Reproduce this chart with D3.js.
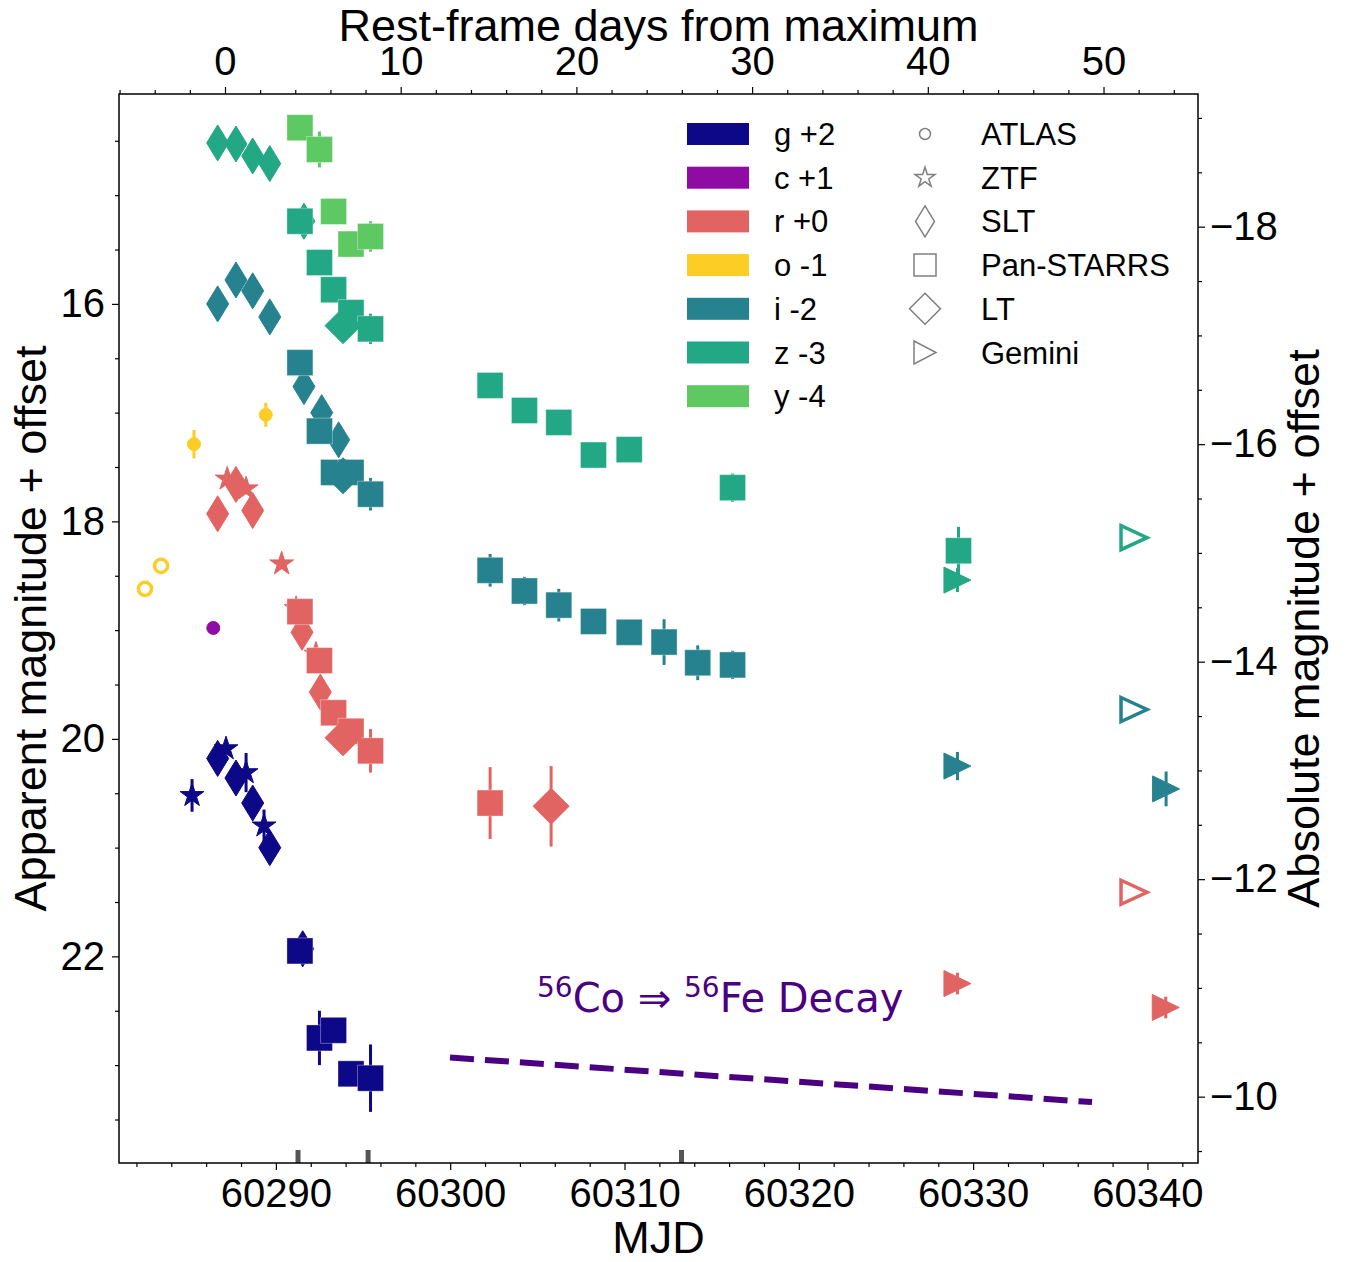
<!DOCTYPE html>
<html>
<head>
<meta charset="utf-8">
<script src="https://cdn.jsdelivr.net/npm/d3@7"></script>
<style>
  body { margin: 0; background: #fff; }
  text { font-family: "Liberation Sans", Arial, Helvetica, sans-serif; }
</style>
</head>
<body>
<div id="chart"></div>
<script>
// bands, offsets added to the apparent magnitude at plot time
const bands = ['g', 'c', 'r', 'o', 'i', 'z', 'y'];
const bandOffsets = [2, 1, 0, -1, -2, -3, -4];
const bandColors = ['#0d0887', '#8e0ca4', '#e16462', '#fccd25', '#26828e', '#22a884', '#5ec962'];
const bandLabels = ['g +2', 'c +1', 'r +0', 'o -1', 'i -2', 'z -3', 'y -4'];

const telescopes = ['ATLAS', 'ZTF', 'SLT', 'Pan-STARRS', 'LT', 'Gemini'];

// detections: [telescope, MJD, apparent mag, error]
const gPhot = [
  ['ZTF', 60285.19, 18.52, 0.15], ['ZTF', 60287.14, 18.09, 0.05], ['ZTF', 60288.29, 18.31, 0.18], ['ZTF', 60289.32, 18.80, 0.15],
  ['SLT', 60286.66, 18.18, 0.04], ['SLT', 60287.71, 18.36, 0.04], ['SLT', 60288.67, 18.59, 0.04], ['SLT', 60289.65, 19.00, 0.05], ['SLT', 60291.54, 19.93, 0.05],
  ['Pan-STARRS', 60291.38, 19.95, 0.06], ['Pan-STARRS', 60292.50, 20.75, 0.25], ['Pan-STARRS', 60293.31, 20.68, 0.06],
  ['Pan-STARRS', 60294.31, 21.08, 0.09], ['Pan-STARRS', 60295.43, 21.12, 0.31]
];
const cPhot = [
  ['ATLAS', 60286.41, 17.98, 0.05]
];
const rPhot = [
  ['ZTF', 60287.21, 17.61, 0.05], ['ZTF', 60288.29, 17.70, 0.05], ['ZTF', 60290.33, 18.39, 0.05], ['ZTF', 60291.16, 18.80, 0.05], ['ZTF', 60292.30, 19.22, 0.05],
  ['SLT', 60286.66, 17.93, 0.04], ['SLT', 60287.71, 17.66, 0.04], ['SLT', 60288.67, 17.90, 0.04], ['SLT', 60291.50, 19.02, 0.05], ['SLT', 60292.55, 19.57, 0.05],
  ['Pan-STARRS', 60291.38, 18.83, 0.06], ['Pan-STARRS', 60292.50, 19.28, 0.05], ['Pan-STARRS', 60293.31, 19.76, 0.05],
  ['Pan-STARRS', 60294.31, 19.93, 0.05], ['Pan-STARRS', 60295.43, 20.11, 0.20], ['Pan-STARRS', 60302.29, 20.59, 0.33],
  ['LT', 60293.85, 19.99, 0.05], ['LT', 60305.79, 20.62, 0.37],
  ['Gemini', 60329.10, 22.25, 0.10], ['Gemini', 60341.05, 22.47, 0.10]
];
const oPhot = [
  ['ATLAS', 60285.30, 18.29, 0.13], ['ATLAS', 60289.42, 18.02, 0.11]
];
const iPhot = [
  ['SLT', 60286.66, 18.00, 0.04], ['SLT', 60287.71, 17.78, 0.04], ['SLT', 60288.67, 17.88, 0.04], ['SLT', 60289.65, 18.12, 0.04],
  ['SLT', 60291.61, 18.76, 0.05], ['SLT', 60292.63, 19.00, 0.05], ['SLT', 60293.60, 19.25, 0.05],
  ['Pan-STARRS', 60291.38, 18.54, 0.05], ['Pan-STARRS', 60292.50, 19.17, 0.05], ['Pan-STARRS', 60293.31, 19.55, 0.05],
  ['Pan-STARRS', 60294.31, 19.55, 0.05], ['Pan-STARRS', 60295.43, 19.75, 0.15], ['Pan-STARRS', 60302.29, 20.45, 0.15],
  ['Pan-STARRS', 60304.26, 20.64, 0.13], ['Pan-STARRS', 60306.23, 20.77, 0.15], ['Pan-STARRS', 60308.22, 20.92, 0.05],
  ['Pan-STARRS', 60310.27, 21.02, 0.05], ['Pan-STARRS', 60312.27, 21.11, 0.21], ['Pan-STARRS', 60314.20, 21.30, 0.16],
  ['Pan-STARRS', 60316.20, 21.32, 0.13],
  ['LT', 60293.85, 19.58, 0.05],
  ['Gemini', 60329.10, 22.25, 0.13], ['Gemini', 60341.07, 22.46, 0.16]
];
const zPhot = [
  ['SLT', 60286.66, 17.52, 0.04], ['SLT', 60287.71, 17.53, 0.04], ['SLT', 60288.67, 17.64, 0.04], ['SLT', 60289.65, 17.71, 0.04],
  ['SLT', 60291.61, 18.24, 0.05],
  ['Pan-STARRS', 60291.38, 18.24, 0.05], ['Pan-STARRS', 60292.50, 18.62, 0.05], ['Pan-STARRS', 60293.31, 18.87, 0.05],
  ['Pan-STARRS', 60294.31, 19.08, 0.05], ['Pan-STARRS', 60295.43, 19.23, 0.14], ['Pan-STARRS', 60302.29, 19.75, 0.05],
  ['Pan-STARRS', 60304.26, 19.98, 0.05], ['Pan-STARRS', 60306.23, 20.09, 0.05], ['Pan-STARRS', 60308.22, 20.39, 0.05],
  ['Pan-STARRS', 60310.27, 20.34, 0.05], ['Pan-STARRS', 60316.20, 20.69, 0.13], ['Pan-STARRS', 60329.16, 21.27, 0.22],
  ['LT', 60293.85, 19.20, 0.05],
  ['Gemini', 60329.10, 21.54, 0.11]
];
const yPhot = [
  ['Pan-STARRS', 60291.38, 18.38, 0.05], ['Pan-STARRS', 60292.50, 18.58, 0.165], ['Pan-STARRS', 60293.31, 19.15, 0.05],
  ['Pan-STARRS', 60294.31, 19.45, 0.05], ['Pan-STARRS', 60295.43, 19.38, 0.14]
];
const photByBand = [gPhot, cPhot, rPhot, oPhot, iPhot, zPhot, yPhot];

// upper limits (open markers): [band, telescope, MJD, apparent mag]
const limits = [
  ['o', 'ATLAS', 60282.49, 19.62], ['o', 'ATLAS', 60283.41, 19.41],
  ['r', 'Gemini', 60339.23, 21.41], ['i', 'Gemini', 60339.23, 21.73], ['z', 'Gemini', 60339.23, 21.15]
];

// spectra epochs (MJD)
const spectraMJD = [60291.27, 60295.29, 60313.27];

// 56Co decay guide line
const decayMJD = [60299.99, 60336.82];
const decayMag = [22.93, 23.34];

const xTicks = [60290, 60300, 60310, 60320, 60330, 60340];
const phaseTicks = [0, 10, 20, 30, 40, 50];
const magTicks = [16, 18, 20, 22];
const absTicks = [-18, -16, -14, -12, -10];

const t0 = 60287.08, redshift = 0.008, distMod = 33.29;

const W = 1348, H = 1262;
const margin = { left: 119, right: 1198, top: 94, bottom: 1163 };

const svg = d3.select('#chart').append('svg')
  .attr('width', W)
  .attr('height', H);

const mjdDomain = [60281.0, 60342.9];
const magDomain = [14.07, 23.9];

const x = d3.scaleLinear().domain(mjdDomain).range([margin.left, margin.right]);
const xTop = d3.scaleLinear()
  .domain(mjdDomain.map(d => (d - t0) / (1 + redshift)))
  .range([margin.left, margin.right]);
const y = d3.scaleLinear().domain(magDomain).range([margin.top, margin.bottom]);
const yAbs = d3.scaleLinear().domain(magDomain.map(d => d - distMod)).range([margin.top, margin.bottom]);

// marker shapes
const starPath = (R) => {
  let pts = [];
  for (let k = 0; k < 10; k++) {
    let a = -Math.PI / 2 + k * Math.PI / 5;
    let rr = k % 2 ? R * 0.382 : R;
    pts.push([rr * Math.cos(a), rr * Math.sin(a)]);
  }
  return 'M' + pts.map(p => p[0].toFixed(2) + ',' + p[1].toFixed(2)).join('L') + 'Z';
}
const diamondPath = (w, h) => `M0,${-h / 2}L${w / 2},0L0,${h / 2}L${-w / 2},0Z`;
const squarePath = (s) => `M${-s / 2},${-s / 2}h${s}v${s}h${-s}Z`;
const circlePath = (r) => `M${r},0A${r},${r} 0 1,1 ${-r},0A${r},${r} 0 1,1 ${r},0Z`;
const triPath = (w, h) => `M${-w / 2},${-h / 2}L${w / 2},0L${-w / 2},${h / 2}Z`;

const markerPath = (tel) => {
  switch (tel) {
    case 'ATLAS': return circlePath(6.5);
    case 'ZTF': return starPath(12.5);
    case 'SLT': return diamondPath(22, 36);
    case 'Pan-STARRS': return squarePath(26);
    case 'LT': return diamondPath(36, 36);
    case 'Gemini': return triPath(27, 26);
  }
}

// spectra markers at the bottom
svg.append('g').selectAll('rect')
  .data(spectraMJD)
  .enter().append('rect')
  .attr('x', d => x(d) - 2.5)
  .attr('y', margin.bottom - 13)
  .attr('width', 5)
  .attr('height', 13)
  .attr('fill', '#555');

// decay line
const decayPts = decayMJD.map((d, i) => [x(d), y(decayMag[i])]);
svg.append('path')
  .attr('d', d3.line()(decayPts))
  .attr('stroke', '#4b0082')
  .attr('stroke-width', 6)
  .attr('stroke-dasharray', '24,11')
  .attr('fill', 'none');

const decayText = svg.append('text')
  .attr('x', 537)
  .attr('y', 1012)
  .attr('fill', '#4b0082')
  .style('font-family', '"DejaVu Sans", sans-serif')
  .style('font-size', '40px');
decayText.append('tspan').attr('font-size', '28px').attr('dy', -15).text('56');
decayText.append('tspan').attr('dy', 15).text('Co \u21D2 ');
decayText.append('tspan').attr('font-size', '28px').attr('dy', -15).text('56');
decayText.append('tspan').attr('dy', 15).text('Fe Decay');

// photometry
const pts = svg.append('g');
bands.forEach((b, bi) => {
  const col = bandColors[bi];
  const off = bandOffsets[bi];
  const data = photByBand[bi];
  const g = pts.append('g').attr('class', 'band-' + b);

  g.selectAll('.err')
    .data(data)
    .enter().append('line')
    .attr('class', 'err')
    .attr('x1', d => x(d[1]))
    .attr('x2', d => x(d[1]))
    .attr('y1', d => y(d[2] + off - d[3]))
    .attr('y2', d => y(d[2] + off + d[3]))
    .attr('stroke', col)
    .attr('stroke-width', 3);

  g.selectAll('.mk')
    .data(data)
    .enter().append('path')
    .attr('class', 'mk')
    .attr('d', d => markerPath(d[0]))
    .attr('transform', d => `translate(${x(d[1])},${y(d[2] + off)})`)
    .attr('fill', col)
    .attr('stroke', d => d[0] === 'Pan-STARRS' ? '#ffffff' : col)
    .attr('stroke-opacity', d => d[0] === 'Pan-STARRS' ? 0.35 : 1)
    .attr('stroke-width', 1);
});

// upper limits, open markers
pts.append('g').selectAll('path')
  .data(limits)
  .enter().append('path')
  .attr('d', d => d[1] === 'ATLAS' ? circlePath(6.6) : triPath(26, 24))
  .attr('transform', d => {
    const bi = bands.indexOf(d[0]);
    return `translate(${x(d[2])},${y(d[3] + bandOffsets[bi])})`;
  })
  .attr('fill', 'none')
  .attr('stroke', d => bandColors[bands.indexOf(d[0])])
  .attr('stroke-width', 3.5);

// axes
const axisStyle = (sel) => {
  sel.select('.domain').remove();
  sel.selectAll('.tick line').attr('stroke', '#000').attr('stroke-width', 1.2);
  sel.selectAll('.tick text').attr('fill', '#000').style('font-size', '40px');
}

const evenBetween = (lo, hi, step, skip) => d3.range(lo, hi + 0.001, step).filter(v => Math.abs(v % skip) > 1e-6);

svg.append('g')
  .attr('transform', `translate(0,${margin.bottom})`)
  .call(d3.axisBottom(x).tickValues(evenBetween(60282, 60342, 2, 10)).tickSize(4).tickFormat(''))
  .call(axisStyle);
svg.append('g')
  .attr('transform', `translate(0,${margin.bottom})`)
  .call(d3.axisBottom(x).tickValues(xTicks).tickSize(7).tickPadding(9).tickFormat(d3.format('d')))
  .call(axisStyle);

svg.append('g')
  .attr('transform', `translate(0,${margin.top})`)
  .call(d3.axisTop(xTop).tickValues(evenBetween(-6, 54, 2, 10)).tickSize(4).tickFormat(''))
  .call(axisStyle);
svg.append('g')
  .attr('transform', `translate(0,${margin.top})`)
  .call(d3.axisTop(xTop).tickValues(phaseTicks).tickSize(7).tickPadding(12).tickFormat(d3.format('d')))
  .call(axisStyle);

svg.append('g')
  .attr('transform', `translate(${margin.left},0)`)
  .call(d3.axisLeft(y).tickValues(evenBetween(14.5, 23.5, 0.5, 2)).tickSize(4).tickFormat(''))
  .call(axisStyle);
svg.append('g')
  .attr('transform', `translate(${margin.left},0)`)
  .call(d3.axisLeft(y).tickValues(magTicks).tickSize(7).tickPadding(7).tickFormat(d3.format('d')))
  .call(axisStyle);

svg.append('g')
  .attr('transform', `translate(${margin.right},0)`)
  .call(d3.axisRight(yAbs).tickValues(evenBetween(-19, -9.5, 0.5, 2)).tickSize(4).tickFormat(''))
  .call(axisStyle);
svg.append('g')
  .attr('transform', `translate(${margin.right},0)`)
  .call(d3.axisRight(yAbs).tickValues(absTicks).tickSize(7).tickPadding(5).tickFormat(d3.format('d')))
  .call(axisStyle);

// frame
svg.append('rect')
  .attr('x', margin.left)
  .attr('y', margin.top)
  .attr('width', margin.right - margin.left)
  .attr('height', margin.bottom - margin.top)
  .attr('fill', 'none')
  .attr('stroke', '#000')
  .attr('stroke-width', 1.5);

// axis titles
const titleSize = '45px';
svg.append('text')
  .attr('x', (margin.left + margin.right) / 2)
  .attr('y', 41)
  .attr('text-anchor', 'middle')
  .style('font-size', titleSize)
  .text('Rest-frame days from maximum');
svg.append('text')
  .attr('x', (margin.left + margin.right) / 2)
  .attr('y', 1253)
  .attr('text-anchor', 'middle')
  .style('font-size', titleSize)
  .text('MJD');
svg.append('text')
  .attr('transform', `translate(46,${(margin.top + margin.bottom) / 2}) rotate(-90)`)
  .attr('text-anchor', 'middle')
  .style('font-size', titleSize)
  .text('Apparent magnitude + offset');
svg.append('text')
  .attr('transform', `translate(1319,${(margin.top + margin.bottom) / 2}) rotate(-90)`)
  .attr('text-anchor', 'middle')
  .style('font-size', titleSize)
  .text('Absolute magnitude + offset');

// legend: bands
const rowY = (i) => 134 + i * 43.7;
const leg = svg.append('g');
leg.selectAll('.patch')
  .data(bands)
  .enter().append('rect')
  .attr('x', 687)
  .attr('y', (d, i) => rowY(i) - 11)
  .attr('width', 62)
  .attr('height', 22)
  .attr('fill', (d, i) => bandColors[i]);
leg.selectAll('.blab')
  .data(bandLabels)
  .enter().append('text')
  .attr('x', 774)
  .attr('y', (d, i) => rowY(i) + 11)
  .style('font-size', '31px')
  .text(d => d);

// legend: telescopes
leg.selectAll('.tmk')
  .data(telescopes)
  .enter().append('path')
  .attr('d', d => {
    switch (d) {
      case 'ATLAS': return circlePath(5.5);
      case 'ZTF': return starPath(10.5);
      case 'SLT': return diamondPath(19, 31);
      case 'Pan-STARRS': return squarePath(22);
      case 'LT': return diamondPath(31, 31);
      case 'Gemini': return triPath(22, 23);
    }
  })
  .attr('transform', (d, i) => `translate(925,${rowY(i)})`)
  .attr('fill', 'none')
  .attr('stroke', '#808080')
  .attr('stroke-width', 1.5);
leg.selectAll('.tlab')
  .data(telescopes)
  .enter().append('text')
  .attr('x', 981)
  .attr('y', (d, i) => rowY(i) + 11)
  .style('font-size', '31px')
  .text(d => d);
</script>
</body>
</html>
